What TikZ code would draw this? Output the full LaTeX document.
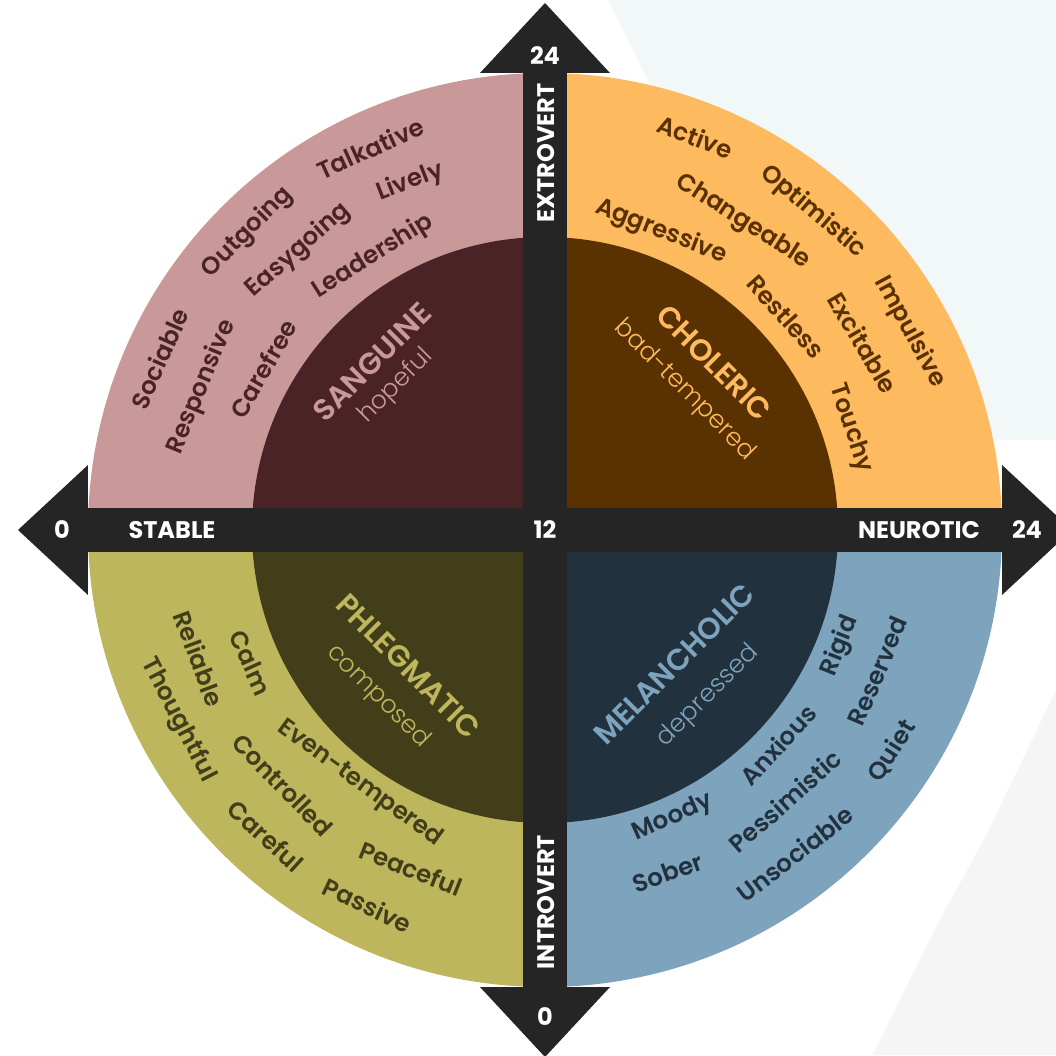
\documentclass[tikz,border=0pt]{standalone}
\usepackage{fontspec}
\setmainfont{Poppins}[BoldFont={Poppins SemiBold}]
\newfontfamily\lightfont{Poppins Light}
\newfontfamily\axisfont{Poppins}[BoldFont={Poppins Bold}]
\definecolor{pinkc}{HTML}{C99999}
\definecolor{pinkd}{HTML}{4A2326}
\definecolor{orac}{HTML}{FEBA5E}
\definecolor{orad}{HTML}{5A3100}
\definecolor{olic}{HTML}{BDB65D}
\definecolor{olid}{HTML}{423E1A}
\definecolor{bluc}{HTML}{7DA3BD}
\definecolor{blud}{HTML}{21313E}
\definecolor{barc}{HTML}{252525}
\definecolor{palegreen}{HTML}{F2F7F7}
\definecolor{palegray}{HTML}{F5F5F5}
\tikzset{
  word/.style={font=\bfseries\fontsize{24.5}{24.5}\selectfont, inner sep=0pt},
  ttl/.style={font=\bfseries\fontsize{30}{30}\selectfont, inner sep=0pt},
  subt/.style={font=\lightfont\fontsize{25}{25}\selectfont, inner sep=0pt},
  axislbl/.style={font=\axisfont\bfseries\fontsize{24}{24}\selectfont, text=white, inner sep=0pt},
  arrowhd/.style={fill=barc},
}
\begin{document}
\begin{tikzpicture}[x=1pt,y=1pt]
\useasboundingbox (-545,-525) rectangle (511,530);
\fill[white] (-545,-525) rectangle (511,530);
% pale background shapes
\fill[palegreen] (63,530) -- (511,530) -- (511,90) -- (281,90) -- cycle;
\fill[palegray] plot[smooth] coordinates {(511,-160) (442,-303) (388,-403) (328,-525)} -- (511,-525) -- cycle;
% arrow heads
\fill[arrowhd] (-65,457) -- (0,527) -- (65,457) -- cycle;
\fill[arrowhd] (-65,-457) -- (0,-527) -- (65,-457) -- cycle;
\fill[arrowhd] (-457,65) -- (-527,0) -- (-457,-65) -- cycle;
\fill[arrowhd] (457,65) -- (527,0) -- (457,-65) -- cycle;
% outer quadrants
\fill[pinkc] (0,0) -- (180:457) arc[start angle=180, end angle=90, radius=457] -- cycle;
\fill[orac] (0,0) -- (90:457) arc[start angle=90, end angle=0, radius=457] -- cycle;
\fill[olic] (0,0) -- (270:457) arc[start angle=270, end angle=180, radius=457] -- cycle;
\fill[bluc] (0,0) -- (0:457) arc[start angle=0, end angle=-90, radius=457] -- cycle;
% inner quadrants
\fill[pinkd] (0,0) -- (180:293) arc[start angle=180, end angle=90, radius=293] -- cycle;
\fill[orad] (0,0) -- (90:293) arc[start angle=90, end angle=0, radius=293] -- cycle;
\fill[olid] (0,0) -- (270:293) arc[start angle=270, end angle=180, radius=293] -- cycle;
\fill[blud] (0,0) -- (0:293) arc[start angle=0, end angle=-90, radius=293] -- cycle;
% bars
\fill[barc] (-458,-22) rectangle (458,22);
\fill[barc] (-22,-458) rectangle (22,458);
% axis labels
\node[axislbl] (l0) at (-483,0) {0};
\node[axislbl] (lstable) at (-373,0) {STABLE};
\node[axislbl] (l12) at (0,0) {12};
\node[axislbl] (lneuro) at (374,0) {NEUROTIC};
\node[axislbl] (r24) at (482,0) {24};
\node[axislbl] (t24) at (0,474) {24};
\node[axislbl, rotate=90] (lextro) at (1,377) {EXTROVERT};
\node[axislbl, rotate=90] (lintro) at (1,-372) {INTROVERT};
\node[axislbl] (b0) at (0,-487) {0};
% sanguine words
\foreach \t/\a/\r/\n in {Sociable/156/422/s1, Outgoing/135/421/s2, Talkative/114.6/420/s3,
  Responsive/157.4/372/s4, Easygoing/131.4/373/s5, Lively/111.2/373/s6,
  Carefree/150.2/325/s7, Leadership/122.2/323/s8}
  \node[word, text=pinkd, rotate=\a-90] (\n) at (\a:\r) {\t};
% choleric words
\foreach \t/\a/\r/\n in {Active/69.1/421/c1, Optimistic/49.9/416/c2, Impulsive/28.5/415/c3,
  Changeable/57.3/366/c4, Excitable/30.5/369/c5,
  Aggressive/68.7/320/c6, Restless/41.5/322/c7, Touchy/18.4/322/c8}
  \node[word, text=orad, rotate=\a-90] (\n) at (\a:\r) {\t};
% phlegmatic words
\foreach \t/\a/\r/\n in {Thoughtful/207.4/413/p1, Careful/227.6/414/p2, Passive/244.7/415/p3,
  Reliable/200.4/369/p4, Controlled/224.2/366/p5, Peaceful/248.4/364/p6,
  Calm/204.3/323/p7, Even-tempered/233.9/314/p8}
  \node[word, text=olid, rotate=\a+90] (\n) at (\a:\r) {\t};
% melancholic words
\foreach \t/\a/\r/\n in {Moody/-66/315/m1, Anxious/-42.7/317/m2, Rigid/-21.5/317/m3,
  Sober/-70.3/364/m4, Pessimistic/-48.5/362/m5, Reserved/-23/361/m6,
  Unsociable/-52.3/409/m7, Quiet/-32.5/411/m8}
  \node[word, text=blud, rotate=\a+90] (\n) at (\a:\r) {\t};
% titles
\node[ttl, text=pinkc, rotate=45] (tsan) at (135.8:241) {SANGUINE};
\node[subt, text=pinkc, rotate=45] (ssan) at (136:207) {hopeful};
\node[ttl, text=orac, rotate=-45] (tcho) at (44.7:238) {CHOLERIC};
\node[subt, text=orac, rotate=-45] (scho) at (45:197) {bad-tempered};
\node[ttl, text=olic, rotate=-45] (tphl) at (225:193) {PHLEGMATIC};
\node[subt, text=olic, rotate=-45] (sphl) at (225:236) {composed};
\node[ttl, text=bluc, rotate=45] (tmel) at (-46:186) {MELANCHOLIC};
\node[subt, text=bluc, rotate=45] (smel) at (-45.5:233) {depressed};
\end{tikzpicture}
\end{document}
